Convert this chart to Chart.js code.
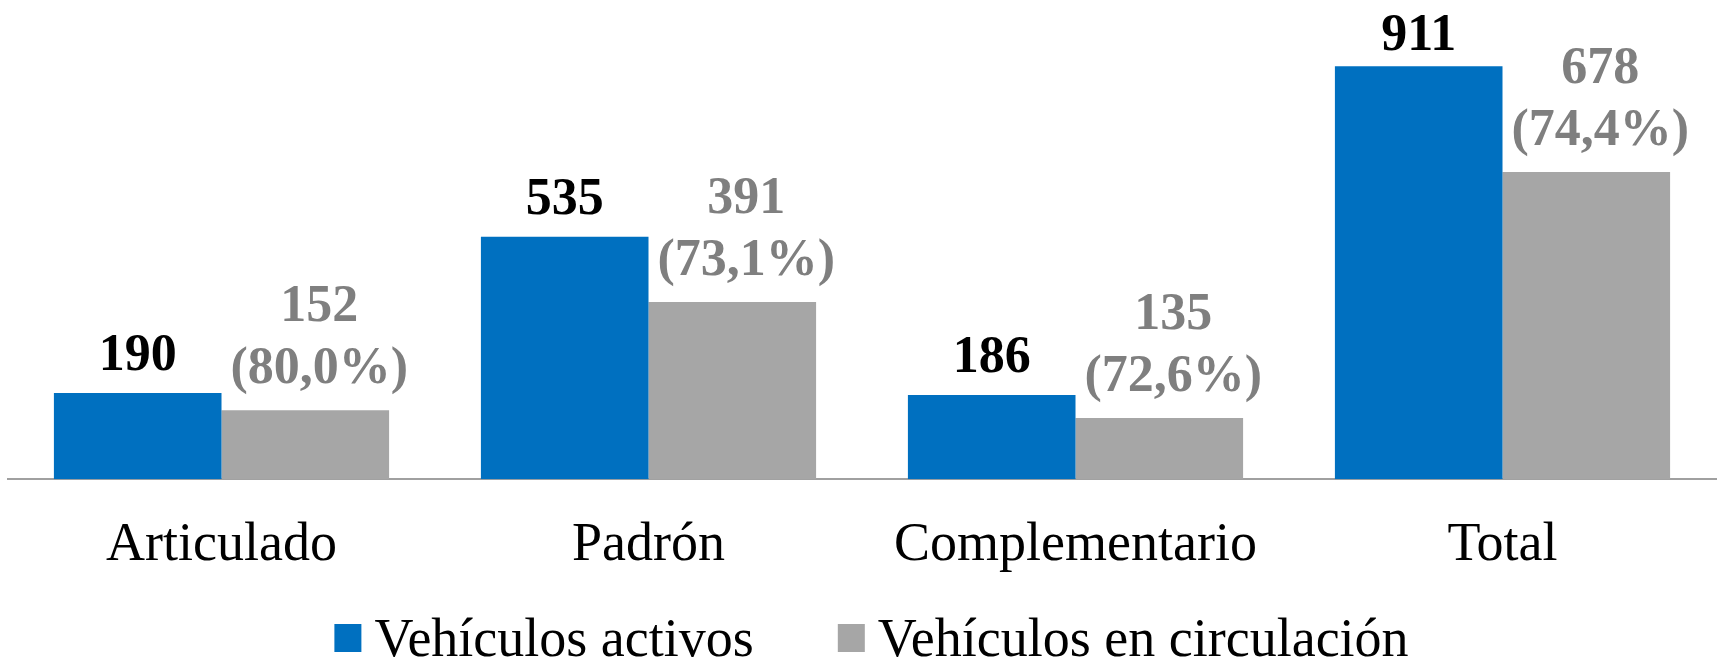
<!DOCTYPE html>
<html><head><meta charset="utf-8">
<script src="https://cdn.jsdelivr.net/npm/chart.js@4/dist/chart.umd.min.js"></script>
<style>html,body{margin:0;padding:0;background:#fff;overflow:hidden}</style>
</head><body>
<canvas id="c" width="1723" height="658"></canvas>
<script>
const categories = ['Articulado', 'Padrón', 'Complementario', 'Total'];
const activos = [190, 535, 186, 911];
const circulacion = [152, 391, 135, 678];
const porcentajes = ['(80,0%)', '(73,1%)', '(72,6%)', '(74,4%)'];
const seriesNames = ['Vehículos activos', 'Vehículos en circulación'];

const SERIF = '"Liberation Serif", "Times New Roman", serif';
const BLUE = '#0070C0', GREY = '#A6A6A6';

const valueLabels = {
  id: 'valueLabels',
  afterDatasetsDraw(chart) {
    const ctx = chart.ctx;
    ctx.save();
    ctx.font = 'bold 52px ' + SERIF;
    ctx.textAlign = 'center';
    ctx.textBaseline = 'alphabetic';
    const top = chart.chartArea.top;
    chart.getDatasetMeta(0).data.forEach((bar, i) => {
      ctx.fillStyle = '#000000';
      const y = Math.max(bar.y - 23, top + 24);
      ctx.fillText(String(activos[i]), bar.x, y);
    });
    chart.getDatasetMeta(1).data.forEach((bar, i) => {
      ctx.fillStyle = '#7F7F7F';
      const y = bar.y - 27;
      ctx.fillText(String(circulacion[i]), bar.x + 14, y - 62);
      ctx.fillText(porcentajes[i], bar.x + 14, y);
    });
    ctx.restore();
  }
};

const customLegend = {
  id: 'customLegend',
  afterDraw(chart) {
    const ctx = chart.ctx;
    ctx.save();
    ctx.font = '54px ' + SERIF;
    ctx.textBaseline = 'alphabetic';
    ctx.textAlign = 'left';
    const box = 27, boxH = 28, gap = 13, spacing = 84;
    const widths = seriesNames.map(t => ctx.measureText(t).width);
    const total = widths.reduce((a, w) => a + box + gap + w, 0) + spacing;
    let x = chart.width / 2 + 10 - total / 2;
    chart.data.datasets.forEach((ds, i) => {
      ctx.fillStyle = ds.backgroundColor;
      ctx.fillRect(x, 624, box, boxH);
      ctx.fillStyle = '#000000';
      ctx.fillText(seriesNames[i], x + box + gap, 656);
      x += box + gap + widths[i] + spacing;
    });
    ctx.restore();
  }
};

new Chart(document.getElementById('c'), {
  type: 'bar',
  data: {
    labels: categories,
    datasets: [
      { label: seriesNames[0], data: activos, backgroundColor: BLUE, barPercentage: 1, categoryPercentage: 0.785 },
      { label: seriesNames[1], data: circulacion, backgroundColor: GREY, barPercentage: 1, categoryPercentage: 0.785 }
    ]
  },
  options: {
    responsive: false,
    animation: false,
    devicePixelRatio: 1,
    layout: { padding: { left: 8, right: 7, top: 26, bottom: 46 } },
    plugins: { legend: { display: false }, tooltip: { enabled: false } },
    scales: {
      x: {
        grid: { display: false, drawTicks: false },
        border: { display: true, color: '#A0A0A0', width: 2 },
        ticks: { padding: 34, color: '#000000', font: { family: SERIF, size: 54 } }
      },
      y: { display: false, min: 0, max: 1000 }
    }
  },
  plugins: [valueLabels, customLegend]
});
</script>
</body></html>
